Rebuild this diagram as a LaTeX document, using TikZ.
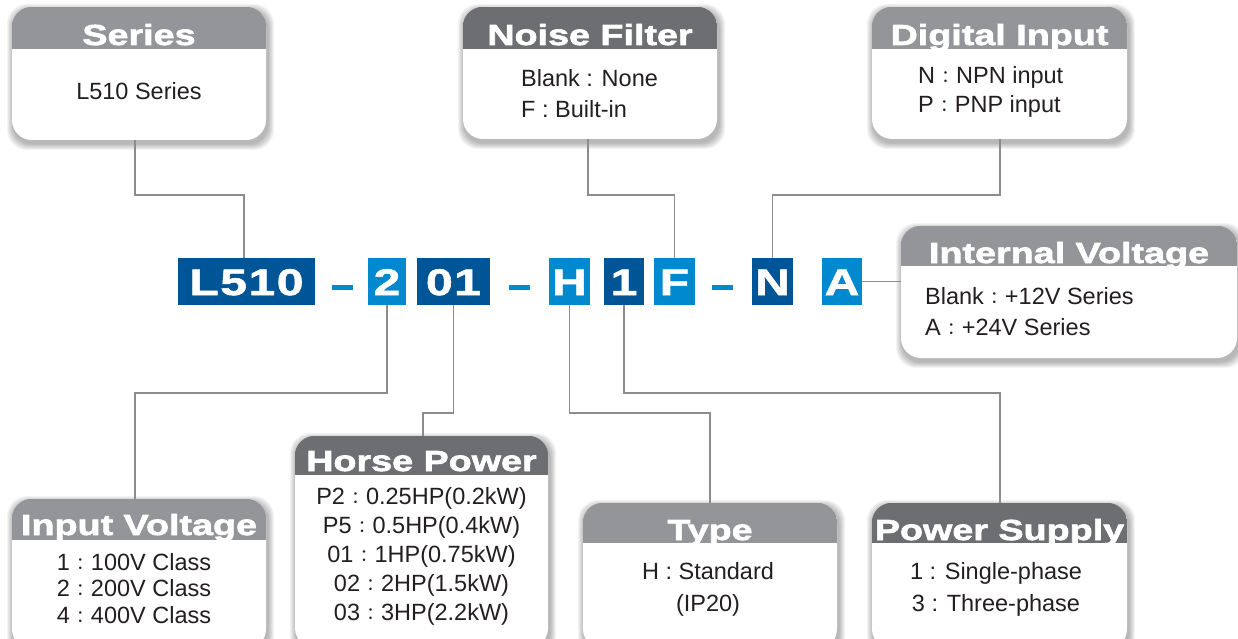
\documentclass[tikz,border=0pt]{standalone}
\usepackage{fontspec}
\setmainfont{Liberation Sans}
\newfontfamily\hdfont{Liberation Sans Bold}[FakeStretch=1.3,FakeBold=2.2]
\newfontfamily\codefont{Liberation Sans Bold}[FakeStretch=1.3,FakeBold=1.5,LetterSpace=4]
\newfontfamily\cjkfont{Noto Sans CJK TC}
\newcommand\fwc{{\hspace{2pt}\cjkfont\fontsize{17}{17}\selectfont ：\hspace{2pt}}}
\definecolor{dblue}{HTML}{005596}
\definecolor{lblue}{HTML}{0089CF}
\definecolor{hgA}{HTML}{939598}
\definecolor{hgB}{HTML}{6D6E71}
\definecolor{lncol}{HTML}{8C8C8C}
\definecolor{txt}{HTML}{231F20}
\pgfdeclarelayer{bg}
\pgfdeclarelayer{bgpaper}
\pgfsetlayers{bgpaper,bg,main}
\newcommand\shad[1]{\begin{pgfonlayer}{bg}\foreach \i in {1,...,7}{\fill[black,opacity=0.045,rounded corners=20pt] ([shift={(-\i*0.9+1.5,-\i*0.9+3.5)}]#1.north west) rectangle ([shift={(\i*0.9+1.5,\i*0.9+3.5)}]#1.south east);}\end{pgfonlayer}}
\newcommand\hdr[3]{\begin{scope}\clip[rounded corners=20pt] (#1.north west) rectangle (#1.south east);
\fill[#2] (#1.north west) rectangle ([yshift=-#3pt]#1.north east);\end{scope}}
\begin{document}
\begin{tikzpicture}[x=1pt,y=-1pt,
  cbox/.style={fill=white,rounded corners=20pt,inner sep=0pt},
  hdtitle/.style={text=white,anchor=base,inner sep=0pt,font=\hdfont\fontsize{29}{29}\selectfont},
  body/.style={text=txt,inner sep=0pt,font=\fontsize{23.5}{#1}\selectfont},
  body/.default=30,
  codebox/.style={fill=#1,text=white,inner sep=0pt,minimum height=47pt,text height=27pt,text depth=0pt,font=\codefont\fontsize{37}{37}\selectfont},
  dashbox/.style={fill=lblue,inner sep=0pt,minimum width=21pt,minimum height=5pt},
  conn/.style={draw=lncol,line width=1.2pt}]
\useasboundingbox (0,0) rectangle (1238,639);
\begin{pgfonlayer}{bgpaper}
\fill[white] (0,0) rectangle (1238,639);
\end{pgfonlayer}

% ---- callout boxes
\node[cbox,minimum width=254pt,minimum height=133pt] (ser) at (139,73.5) {};
\node[cbox,minimum width=254pt,minimum height=132pt] (noi) at (590,73) {};
\node[cbox,minimum width=255pt,minimum height=132pt] (dig) at (999.5,73) {};
\node[cbox,minimum width=336pt,minimum height=132pt] (intv) at (1069,292) {};
\node[cbox,minimum width=254pt,minimum height=150pt] (inp) at (139,574) {};
\node[cbox,minimum width=253pt,minimum height=212pt] (hp) at (421.5,542) {};
\node[cbox,minimum width=254pt,minimum height=146pt] (typ) at (710,576) {};
\node[cbox,minimum width=255pt,minimum height=146pt] (pwr) at (999.5,576) {};
\shad{ser}\shad{noi}\shad{dig}\shad{intv}\shad{inp}\shad{hp}\shad{typ}\shad{pwr}
\hdr{ser}{hgA}{42}
\hdr{noi}{hgB}{42}
\hdr{dig}{hgA}{42}
\hdr{intv}{hgA}{40}
\hdr{inp}{hgA}{41}
\hdr{hp}{hgB}{39}
\hdr{typ}{hgA}{40}
\hdr{pwr}{hgB}{40}

% ---- titles
\node[hdtitle] (serT) at (139,45) {Series};
\node[hdtitle] (noiT) at (590,45) {Noise Filter};
\node[hdtitle] (digT) at (999.5,45) {Digital Input};
\node[hdtitle] (intvT) at (1069,263) {Internal Voltage};
\node[hdtitle] (inpT) at (139,535) {Input Voltage};
\node[hdtitle] (hpT) at (421.5,471) {Horse Power};
\node[hdtitle] (typT) at (710,540) {Type};
\node[hdtitle] (pwrT) at (999.5,540) {Power Supply};

% ---- body texts
\node[body] (serB) at (139,91) {L510 Series};
\node[body=31,align=left,anchor=west] (noiB) at (521,93.5) {Blank : None\\F : Built-in};
\node[body=29,align=left,anchor=west] (digB) at (918,91.5) {N\fwc NPN input\\P\fwc PNP input};
\node[body=31,align=left,anchor=west] (intvB) at (925,311.5) {Blank\fwc +12V Series\\A\fwc +24V Series};
\node[body=26.5,align=center] (inpB) at (134,588.5) {1\fwc 100V Class\\2\fwc 200V Class\\4\fwc 400V Class};
\node[body=29,align=center] (hpB) at (421.5,556) {P2\fwc 0.25HP(0.2kW)\\P5\fwc 0.5HP(0.4kW)\\01\fwc 1HP(0.75kW)\\02\fwc 2HP(1.5kW)\\03\fwc 3HP(2.2kW)};
\node[body=32,align=center] (typB) at (708,589) {H : Standard\\(IP20)};
\node[body=32,align=center] (pwrB) at (996,589) {1 : Single-phase\\3 : Three-phase};

% ---- code row
\node[codebox=dblue,minimum width=137pt] (cL) at (246.5,281.5) {L510};
\node[dashbox] (d1) at (342.5,287.5) {};
\node[codebox=lblue,minimum width=38pt] (c2) at (387,281.5) {2};
\node[codebox=dblue,minimum width=73pt] (c01) at (453.5,281.5) {01};
\node[dashbox] (d2) at (519,287.5) {};
\node[codebox=lblue,minimum width=41pt] (cH) at (569.5,281.5) {H};
\node[codebox=dblue,minimum width=40pt] (c1) at (624,281.5) {1};
\node[codebox=lblue,minimum width=41pt] (cF) at (674.5,281.5) {F};
\node[dashbox] (d3) at (722,287.5) {};
\node[codebox=dblue,minimum width=41pt] (cN) at (772.5,281.5) {N};
\node[codebox=lblue,minimum width=40pt] (cA) at (842,281.5) {A};

% ---- connectors
\coordinate (s1) at (135,195);
\coordinate (s2) at (244,195);
\coordinate (n1) at (588,195);
\coordinate (g1) at (1000,195);
\coordinate (i1) at (135,393);
\coordinate (h1) at (423,413);
\coordinate (t1) at (710,413);
\coordinate (p1) at (1000,393);
\draw[conn] (s1 |- ser.south) -- (s1) -- (s2) -- (s2 |- cL.north);
\draw[conn] (n1 |- noi.south) -- (n1) -| (cF.north);
\draw[conn] (g1 |- dig.south) -- (g1) -| (cN.north);
\draw[conn] (cA.east) -- (cA.east -| intv.west);
\draw[conn] (c2.south) |- (i1) -- (i1 |- inp.north);
\draw[conn] (c01.south) |- (h1) -- (h1 |- hp.north);
\draw[conn] (cH.south) |- (t1) -- (t1 |- typ.north);
\draw[conn] (c1.south) |- (p1) -- (p1 |- pwr.north);
\end{tikzpicture}
\end{document}
